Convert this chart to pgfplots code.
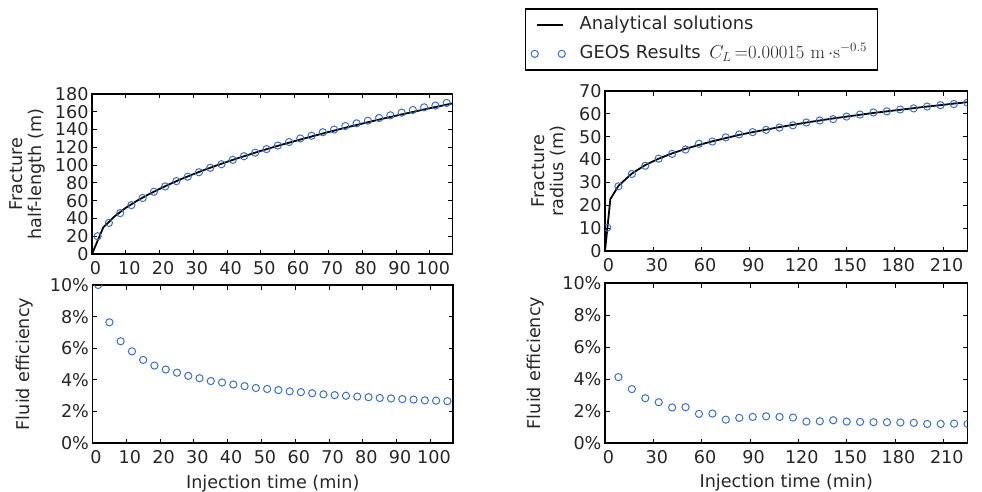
\documentclass[border=0pt]{standalone}
\usepackage[no-math]{fontspec}
\setmainfont{DejaVu Sans}
\usepackage{pgfplots}
\pgfplotsset{compat=1.18}
\usepackage{pgfplotstable}

\definecolor{geosblue}{RGB}{58,112,200}
\definecolor{txt}{RGB}{38,38,38}
\newcommand\fs{\fontsize{17.6pt}{19.5pt}\selectfont}
\newcommand\lfs{\fontsize{17.9pt}{19.5pt}\selectfont}

% ---------- KGD fracture (left column) ----------
\pgfplotstableread{
t      L
0      0
3.333  29.9
6.667  42.3
10     51.9
13.333 59.9
16.667 66.9
20     73.3
23.333 79.2
26.667 84.7
30     89.8
33.333 94.7
36.667 99.3
40     103.7
43.333 108.0
46.667 112.0
50     116.0
53.333 119.8
56.667 123.5
60     127.0
63.333 130.5
66.667 133.9
70     137.2
73.333 140.4
76.667 143.6
80     146.7
83.333 149.7
86.667 152.7
90     155.6
93.333 158.4
96.667 161.2
100    164.0
103.333 166.7
106.667 169.4
}\kgdana

\pgfplotstableread{
t       L     eff
1.667   20    10.0
5       35    7.64
8.333   46    6.44
11.667  55    5.80
15      63    5.26
18.333  70    4.90
21.667  76    4.65
25      82    4.45
28.333  87    4.25
31.667  92    4.10
35      97    3.92
38.333  101   3.83
41.667  106   3.70
45      110   3.60
48.333  114   3.48
51.667  118   3.42
55      122   3.35
58.333  126   3.27
61.667  130   3.22
65      133   3.15
68.333  137   3.08
71.667  140   3.03
75      144   2.99
78.333  147   2.94
81.667  150   2.90
85      153   2.85
88.333  156   2.82
91.667  159   2.78
95      162   2.75
98.333  165   2.70
101.667 167   2.68
105     170   2.65
}\kgdgeos

% ---------- penny-shaped fracture (right column) ----------
\pgfplotstableread{
t       R
0       0
3.333   22.7
8.333   28.5
16.667  33.9
25      37.6
33.333  40.4
41.667  42.7
50      44.7
58.333  46.4
66.667  48.0
75      49.4
83.333  50.8
91.667  52.0
100     53.1
108.333 54.2
116.667 55.2
125     56.2
133.333 57.1
141.667 58.0
150     58.8
158.333 59.6
166.667 60.4
175     61.1
183.333 61.8
191.667 62.5
200     63.2
208.333 63.8
216.667 64.5
225     65.1
}\pennyana

\pgfplotstableread{
t       R
1.4     10.2
8.333   28.3
16.667  33.7
25      37.3
33.333  40.4
41.667  42.5
50      44.4
58.333  46.9
66.667  47.9
75      49.7
83.333  51.0
91.667  52.0
100     53.0
108.333 54.0
116.667 55.0
125     56.2
133.333 57.1
141.667 57.7
150     58.8
158.333 59.7
166.667 60.6
175     61.1
183.333 61.9
191.667 62.4
200     63.2
208.333 63.8
216.667 64.3
225     64.9
}\pennygeos

\pgfplotstableread{
t       eff
8.333   4.12
16.667  3.37
25      2.80
33.333  2.55
41.667  2.22
50      2.24
58.333  1.82
66.667  1.84
75      1.46
83.333  1.57
91.667  1.63
100     1.67
108.333 1.63
116.667 1.59
125     1.34
133.333 1.36
141.667 1.42
150     1.34
158.333 1.32
166.667 1.30
175     1.30
183.333 1.28
191.667 1.26
200     1.19
208.333 1.19
216.667 1.21
225     1.19
}\pennyeff

\pgfplotsset{
  panel/.style={
    scale only axis, anchor=south west,
    axis line style={line width=1.3pt, black},
    tick align=inside, xtick pos=both, ytick pos=both,
    xticklabel pos=lower, yticklabel pos=left,
    major tick length=4.5pt,
    every tick/.style={black, line width=1pt},
    tick label style={font=\fs, text=txt},
    /pgf/number format/assume math mode=true,
    xticklabel style={xshift=3.5pt, yshift=-3.5pt},
    label style={font=\fs, text=txt, inner sep=0pt},
    ylabel style={anchor=center, align=center},
    xlabel style={anchor=base},
    clip marker paths=true,
  },
  geos/.style={only marks, mark=o, mark size=3.6pt,
    mark options={line width=1pt, draw=geosblue}, draw=geosblue},
  analytic/.style={black, line width=1.8pt, mark=none},
  pct/.style={ymin=0, ymax=10, ytick={0,2,...,10},
    yticklabel={\pgfmathprintnumber{\tick}\%}},
}

\begin{document}
\begin{tikzpicture}
\path[use as bounding box] (0pt,0pt) rectangle (982pt,491pt);

% half-length
\begin{axis}[panel, at={(92pt,237pt)}, width=360.3pt, height=160pt,
  xmin=0, xmax=106.667, ymin=0, ymax=180,
  xtick={0,10,...,100}, ytick={0,20,...,180},
  ylabel={Fracture\\half-length (m)},
  ylabel style={at={(axis description cs:-0.179,0.5)}}]
  \addplot[analytic] table[x=t, y=L] {\kgdana};
  \addplot[geos] table[x=t, y=L] {\kgdgeos};
\end{axis}

% efficiency, KGD
\begin{axis}[panel, pct, at={(92.5pt,48pt)}, width=360.5pt, height=158pt,
  xmin=0, xmax=106.667, xtick={0,10,...,100},
  ylabel={Fluid efficiency}, xlabel={Injection time (min)},
  ylabel style={at={(axis description cs:-0.187,0.5)}},
  xlabel style={at={(axis description cs:0.5,-0.285)}}]
  \addplot[geos] table[x=t, y=eff] {\kgdgeos};
\end{axis}

% radius
\begin{axis}[panel, at={(605pt,240pt)}, width=362.3pt, height=160pt,
  xmin=0, xmax=225, ymin=0, ymax=70,
  xtick={0,30,...,210}, ytick={0,10,...,70},
  ylabel={Fracture\\radius (m)},
  ylabel style={at={(axis description cs:-0.1546,0.5)}},
  legend cell align=left,
  legend style={at={(axis description cs:-0.2208,1.517)}, anchor=north west,
    draw=black, line width=1.3pt, fill=white, font=\lfs, text=txt,
    inner xsep=5pt, inner ysep=2pt, row sep=0pt,
    nodes={text height=13pt, text depth=4pt, inner sep=5.8pt},
    /tikz/every even column/.append style={column sep=14pt}}]
  \addplot[analytic,
    legend image code/.code={
      \path[draw=none, fill=none] (-4pt,-4pt) rectangle (31pt,4pt);
      \draw[black, line width=1.8pt] (2pt,0pt) -- (28pt,0pt);}]
    table[x=t, y=R] {\pennyana};
  \addlegendentry{\hspace{8pt}Analytical solutions}
  \addplot[geos,
    legend image code/.code={
      \path[draw=none, fill=none] (-4pt,-4pt) rectangle (31pt,4pt);
      \draw[geosblue, line width=1pt] (0pt,0pt) circle[radius=3.6pt]
        (27pt,0pt) circle[radius=3.6pt];}]
    table[x=t, y=R] {\pennygeos};
  \addlegendentry{\hspace{8pt}GEOS Results\hspace{3pt} \scalebox{1.08}{$C_L\,{=}0.00015~\mathrm{m}\,{\cdot}\mathrm{s}^{-0.5}$}}
\end{axis}

% efficiency, penny-shaped
\begin{axis}[panel, pct, at={(605pt,48pt)}, width=362.5pt, height=160pt,
  xmin=0, xmax=225, xtick={0,30,...,210},
  ylabel={Fluid efficiency}, xlabel={Injection time (min)},
  ylabel style={at={(axis description cs:-0.1917,0.5)}},
  xlabel style={at={(axis description cs:0.5,-0.281)}}]
  \addplot[geos] table[x=t, y=eff] {\pennyeff};
\end{axis}
\end{tikzpicture}
\end{document}
